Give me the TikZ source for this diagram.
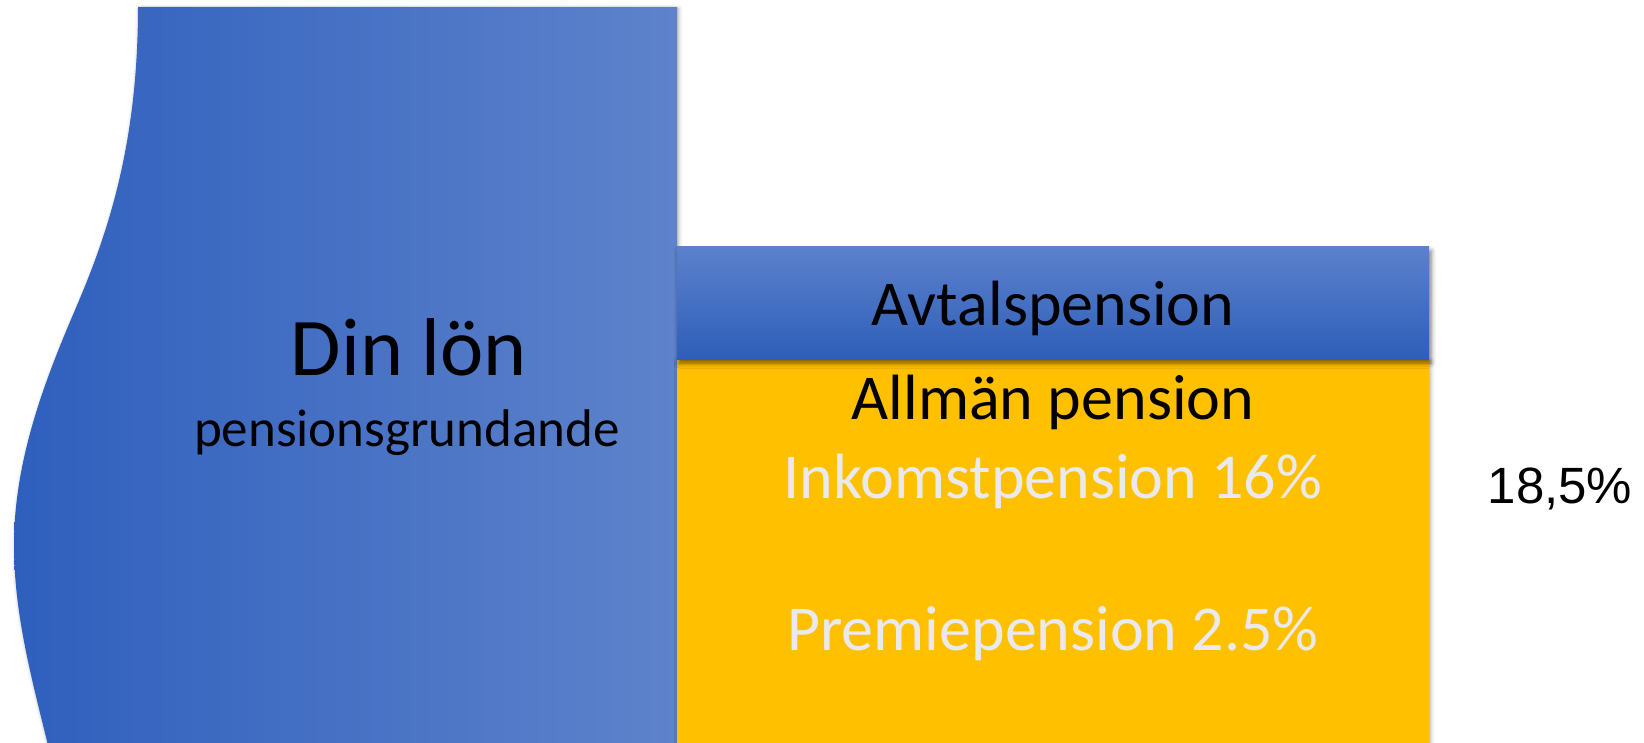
\documentclass[tikz,border=0pt]{standalone}
\usepackage{fontspec}
\setmainfont{Carlito}
\newfontfamily\arialfont{Liberation Sans}
\usetikzlibrary{shadows.blur}
\definecolor{blueL}{HTML}{2F5FBD}
\definecolor{blueR}{HTML}{5E83CB}
\definecolor{boxTop}{HTML}{5C81CB}
\definecolor{boxBot}{HTML}{2E5EB9}
\definecolor{gold}{HTML}{FFC000}
\definecolor{lightgray}{HTML}{E9E9EE}
\tikzset{
  softshadow/.style={blur shadow={shadow xshift=1.5pt, shadow yshift=-1.5pt, shadow blur radius=4pt, shadow opacity=35}},
  label/.style={inner sep=0pt, anchor=base},
}
\begin{document}
\begin{tikzpicture}[x=1pt,y=-1pt]
\useasboundingbox (0,0) rectangle (1644,743);
\clip (0,0) rectangle (1644,743);
% big wavy blue shape
\path[softshadow, left color=blueL, right color=blueR]
  (138,7) .. controls (138,150) and (105,240) .. (75,310)
          .. controls (45,380) and (14,460) .. (14,545)
          .. controls (14,620) and (35,690) .. (52,762)
  -- (677,762) -- (677,7) -- cycle;
% orange box
\path[softshadow, fill=gold] (677,359) rectangle (1429,770);
% avtalspension box
\path[blur shadow={shadow xshift=2pt, shadow yshift=-4pt, shadow blur radius=5pt, shadow opacity=55}, top color=boxTop, bottom color=boxBot] (677,247) rectangle (1429,359);
% texts
\node[label] (din) at (409,375) {\fontsize{82}{96}\selectfont Din lön};
\node[label] (grund) at (407,446) {\fontsize{53}{64}\selectfont pensionsgrundande};
\node[label] (avtal) at (1053,326) {\fontsize{64}{76}\selectfont Avtalspension};
\node[label] (allm) at (1053,419) {\fontsize{64}{76}\selectfont Allmän pension};
\node[label, text=lightgray] (inkomst) at (1053,498) {\fontsize{64}{76}\selectfont Inkomstpension 16\%};
\node[label, text=lightgray] (premie) at (1053,650) {\fontsize{64}{76}\selectfont Premiepension 2.5\%};
\node[label] (total) at (1560,503) {\arialfont\fontsize{51}{60}\selectfont 18,5\%};
\end{tikzpicture}
\end{document}
